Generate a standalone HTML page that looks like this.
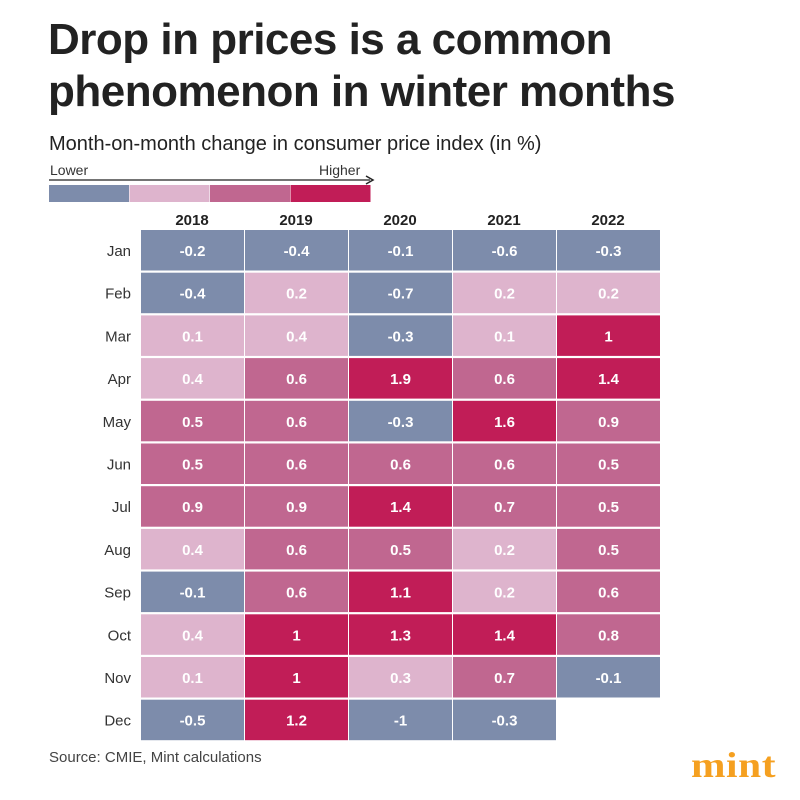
<!DOCTYPE html>
<html><head><meta charset="utf-8"><style>
body{margin:0;width:800px;height:800px;background:#fff;font-family:"Liberation Sans",sans-serif;position:relative;overflow:hidden}
.t{position:absolute;left:48px;font-weight:bold;font-size:44px;color:#222;letter-spacing:-0.5px;line-height:52px}
</style></head><body>
<div class="t" style="top:14px">Drop in prices is a common<br>phenomenon in winter months</div>
<div style="position:absolute;left:49px;top:133px;font-size:20px;color:#222">Month-on-month change in consumer price index (in %)</div>
<svg id="chart" width="800" height="800" style="position:absolute;left:0;top:0"></svg>
<div style="position:absolute;left:49px;top:749px;font-size:15px;color:#444">Source: CMIE, Mint calculations</div>
<div style="position:absolute;left:691px;top:744px;font-family:'Liberation Serif',serif;font-weight:bold;font-size:36px;color:#f5a020;letter-spacing:0.5px;transform:scaleX(1.15);transform-origin:left">mint</div>
<script>
const years=["2018","2019","2020","2021","2022"];
const months=["Jan","Feb","Mar","Apr","May","Jun","Jul","Aug","Sep","Oct","Nov","Dec"];
const v2018=[-0.2,-0.4,0.1,0.4,0.5,0.5,0.9,0.4,-0.1,0.4,0.1,-0.5];
const v2019=[-0.4,0.2,0.4,0.6,0.6,0.6,0.9,0.6,0.6,1,1,1.2];
const v2020=[-0.1,-0.7,-0.3,1.9,-0.3,0.6,1.4,0.5,1.1,1.3,0.3,-1];
const v2021=[-0.6,0.2,0.1,0.6,1.6,0.6,0.7,0.2,0.2,1.4,0.7,-0.3];
const v2022=[-0.3,0.2,1,1.4,0.9,0.5,0.5,0.5,0.6,0.8,-0.1,null];
const series=[v2018,v2019,v2020,v2021,v2022];
const svg=document.getElementById('chart');const NS='http://www.w3.org/2000/svg';
function mk(t,a,txt){const e=document.createElementNS(NS,t);for(const k in a)e.setAttribute(k,a[k]);if(txt!=null)e.textContent=txt;svg.appendChild(e);return e;}
const x=i=>141+i*104, y=j=>230+j*42.7;
function col(v){return v<0?'#7d8cab':v<0.45?'#deb4cd':v<0.95?'#c06790':'#c11d57';}
const legCols=['#7d8cab','#deb4cd','#c06790','#c11d57'];
legCols.forEach((c,i)=>{const r=mk('rect',{x:49+i*80.5,y:185,width:80,height:17,fill:c});

});
let l=mk('line',{x1:49,y1:180,x2:370,y2:180,stroke:'#222','stroke-width':1.2});


let p=mk('path',{d:'M366,176 L373,180 L366,184',fill:'none',stroke:'#222','stroke-width':1.5});


let t1=mk('text',{x:50,y:175,'font-size':14,fill:'#333'},'Lower');


let t2=mk('text',{x:319,y:175,'font-size':14,fill:'#333'},'Higher');


years.forEach((yr,i)=>{const t=mk('text',{x:x(i)+51,y:225,'font-size':15,'font-weight':'bold','text-anchor':'middle',fill:'#222'},yr);

});
months.forEach((m,j)=>{const t=mk('text',{x:131,y:y(j)+26,'font-size':15,'text-anchor':'end',fill:'#333'},m);

});
series.forEach((s,i)=>s.forEach((v,j)=>{if(v==null)return;
const r=mk('rect',{x:x(i),y:y(j),width:103,height:40.5,fill:col(v)});


const t=mk('text',{x:x(i)+51.5,y:y(j)+26,'font-size':15,'font-weight':'bold','text-anchor':'middle',fill:'#fff'},String(v));

}));
</script>
</body></html>
